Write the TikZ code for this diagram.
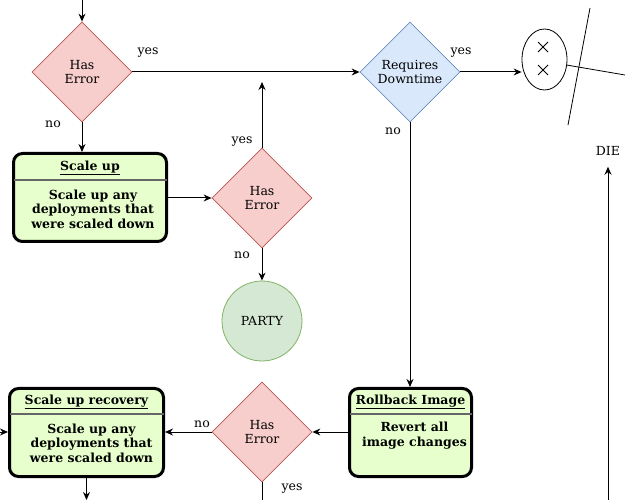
\documentclass[tikz,border=0pt]{standalone}
\usepackage{fontspec}
\setmainfont{DejaVu Serif}
\usetikzlibrary{shapes.geometric,arrows.meta}
\definecolor{errfill}{HTML}{F8CECC}
\definecolor{errline}{HTML}{B85450}
\definecolor{askfill}{HTML}{DAE8FC}
\definecolor{askline}{HTML}{6C8EBF}
\definecolor{partyfill}{HTML}{D5E8D4}
\definecolor{partyline}{HTML}{82B366}
\definecolor{stepfill}{HTML}{E6FFCC}
\definecolor{sepgray}{HTML}{666666}

\begin{document}
\begin{tikzpicture}[x=1pt,y=-1pt,font=\fontsize{12.5}{14.5}\selectfont,>={Stealth[length=8pt,width=7pt]}]
\tikzset{flow/.style={draw=black,->,line width=1pt}}
\tikzset{wire/.style={draw=black,line width=1pt}}
\tikzset{errdiamond/.style={diamond,draw=errline,fill=errfill,line width=0.8pt,inner sep=0pt,minimum width=100pt,minimum height=100pt,align=center,anchor=center}}
\tikzset{askdiamond/.style={errdiamond,draw=askline,fill=askfill}}
\tikzset{stepbox/.style={draw=black,fill=stepfill,rounded corners=9pt,line width=3pt,minimum height=88pt,anchor=center}}
\tikzset{steptitle/.style={font=\fontsize{12.5}{14.5}\selectfont\bfseries,inner sep=0pt}}
\tikzset{stepbody/.style={font=\fontsize{12.5}{14.5}\selectfont\bfseries,align=center,inner sep=0pt}}
\tikzset{sepline/.style={draw=sepgray,line width=1.5pt}}
\tikzset{label/.style={inner sep=0pt}}
\tikzset{thin/.style={draw=black,line width=0.8pt}}

\useasboundingbox (0,0) rectangle (625,500);

% decisions
\node[errdiamond] (err1) at (82,72) {Has\\Error};
\node[errdiamond] (err2) at (262,198) {Has\\Error};
\node[errdiamond] (err3) at (262,432) {Has\\Error};
\node[askdiamond] (down) at (410,72) {Requires\\Downtime};

% steps
\node[stepbox,minimum width=153pt] (scaleup) at (90,197.5) {};
\node[steptitle] at ([yshift=-16pt]scaleup.north) {\underline{Scale up}};
\path[sepline] ([xshift=1.5pt,yshift=-28pt]scaleup.north west) -- ([xshift=-1.5pt,yshift=-28pt]scaleup.north east);
\node[stepbody] at ([xshift=3pt,yshift=-57pt]scaleup.north) {Scale up any\\deployments that\\were scaled down};

\node[stepbox,minimum width=154pt] (recover) at (86.5,432.5) {};
\node[steptitle] at ([yshift=-15pt]recover.north) {\underline{Scale up recovery}};
\path[sepline] ([xshift=1.5pt,yshift=-27pt]recover.north west) -- ([xshift=-1.5pt,yshift=-27pt]recover.north east);
\node[stepbody] at ([xshift=5pt,yshift=-56pt]recover.north) {Scale up any\\deployments that\\were scaled down};

\node[stepbox,minimum width=122pt] (rollback) at (410.5,432.5) {};
\node[steptitle] at ([yshift=-15pt]rollback.north) {\underline{Rollback Image}};
\path[sepline] ([xshift=1.5pt,yshift=-27pt]rollback.north west) -- ([xshift=-1.5pt,yshift=-27pt]rollback.north east);
\node[stepbody] at ([xshift=4pt,yshift=-48.5pt]rollback.north) {Revert all\\image changes};

% ends
\node[circle,draw=partyline,fill=partyfill,line width=0.8pt,minimum size=80pt,inner sep=0pt] (party) at (262,321) {PARTY};
\node[ellipse,draw=black,line width=0.8pt,minimum width=45pt,minimum height=61pt,inner sep=0pt] (face) at (544.5,59.5) {};
\node[inner xsep=0pt,inner ysep=11pt] (die) at (608,151) {DIE};

\path[thin] (538,42) -- (548,52);
\path[thin] (548,42) -- (538,52);
\path[thin] (538,65) -- (548,75);
\path[thin] (548,65) -- (538,75);
\path[thin] (590,8) -- (568,125);
\path[thin] (566.5,65) -- (625,75);

% loose ends
\coordinate (top) at (82,0);
\coordinate (join) at (262,82);
\coordinate (inrec) at (0,432);
\coordinate (outrec) at (86.5,500);
\coordinate (outerr) at (262,500);
\coordinate (indie) at (608,500);

% connectors
\path[flow] (top) -- (err1.north);
\path[flow] (err1.east) -- (down.west);
\path[flow] (err1.south) -- (scaleup.north -| err1.south);
\path[flow] (scaleup.east |- err2.west) -- (err2.west);
\path[flow] (err2.north) -- (join);
\path[flow] (err2.south) -- (party.north);
\path[flow] (down.east) -- (face.west |- down.east);
\path[flow] (down.south) -- (rollback.north -| down.south);
\path[flow] (rollback.west |- err3.east) -- (err3.east);
\path[flow] (err3.west) -- (recover.east |- err3.west);
\path[flow] (inrec) -- (recover.west |- inrec);
\path[flow] (recover.south) -- (outrec);
\path[wire] (err3.south) -- (outerr);
\path[flow] (indie) -- (die.south);

% labels
\node[label] (l1) at (148,53) {yes};
\node[label] (l2) at (53,124) {no};
\node[label] (l3) at (242,142) {yes};
\node[label] (l4) at (242,255) {no};
\node[label] (l5) at (461,53) {yes};
\node[label] (l6) at (393,131) {no};
\node[label] (l7) at (202,424) {no};
\node[label] (l8) at (292,489) {yes};
\end{tikzpicture}
\end{document}
